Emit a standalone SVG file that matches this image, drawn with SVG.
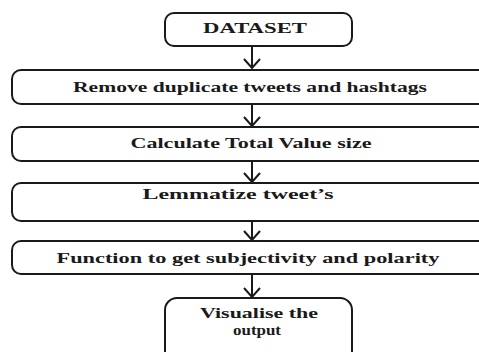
<svg xmlns="http://www.w3.org/2000/svg" width="479" height="352" viewBox="0 0 479 352">
  <defs>
    <style>
      .box { fill: #ffffff; stroke: #1a1a1a; stroke-width: 2; }
      .lbl { font-family: 'Liberation Serif', 'Times New Roman', serif; font-weight: 700; font-size: 15px; fill: #1a1a1a; text-anchor: middle; }
      .edge { fill: none; stroke: #1a1a1a; stroke-width: 2; }
    </style>
  </defs>
  <rect width="479" height="352" fill="#ffffff"/>

  <!-- straight down-arrows with open V heads -->
  <g id="connectors">
    <path class="edge" d="M252 47 V68 M244 59 L252 68 L260 59"/>
    <path class="edge" d="M252 105 V126 M244 117 L252 126 L260 117"/>
    <path class="edge" d="M252 162 V182 M244 173 L252 182 L260 173"/>
    <path class="edge" d="M252 222 V240 M244 231 L252 240 L260 231"/>
    <path class="edge" d="M252 275 V297 M244 288 L252 297 L260 288"/>
  </g>

  <g id="dataset">
    <rect class="box" x="165" y="13" width="187" height="33" rx="9"/>
    <text class="lbl" x="255" y="33" textLength="104" lengthAdjust="spacingAndGlyphs">DATASET</text>
  </g>

  <g id="remove-duplicates">
    <rect class="box" x="12" y="70" width="480" height="34" rx="9"/>
    <text class="lbl" x="250" y="92" textLength="354" lengthAdjust="spacingAndGlyphs">Remove duplicate tweets and hashtags</text>
  </g>

  <g id="total-value">
    <rect class="box" x="12" y="127" width="480" height="34" rx="9"/>
    <text class="lbl" x="251" y="148" textLength="241" lengthAdjust="spacingAndGlyphs">Calculate Total Value size</text>
  </g>

  <g id="lemmatize">
    <rect class="box" x="12" y="183" width="480" height="38" rx="9"/>
    <text class="lbl" x="238" y="199" textLength="191" lengthAdjust="spacingAndGlyphs">Lemmatize tweet’s</text>
  </g>

  <g id="subjectivity-polarity">
    <rect class="box" x="12" y="241" width="480" height="33" rx="9"/>
    <text class="lbl" x="248" y="263" textLength="383" lengthAdjust="spacingAndGlyphs">Function to get subjectivity and polarity</text>
  </g>

  <g id="visualise">
    <rect class="box" x="165" y="298" width="187" height="70" rx="12"/>
    <text class="lbl" x="259" y="318" textLength="118" lengthAdjust="spacingAndGlyphs">Visualise the</text>
    <text class="lbl" x="257" y="335" textLength="48" lengthAdjust="spacingAndGlyphs">output</text>
  </g>
</svg>
